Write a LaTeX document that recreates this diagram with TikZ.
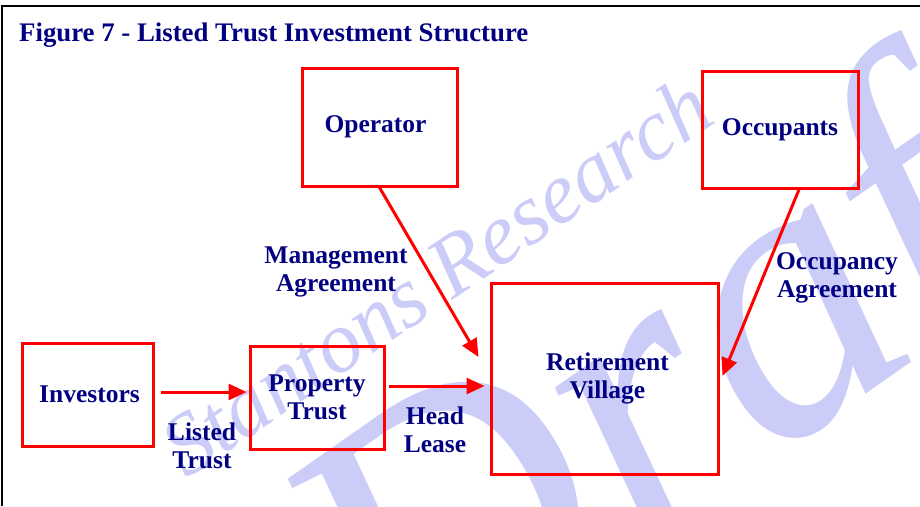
\documentclass[tikz,border=0pt]{standalone}
\usepackage{fontspec}
\setmainfont{Liberation Serif}
\usetikzlibrary{arrows.meta}
\definecolor{navytext}{RGB}{0,0,128}
\definecolor{boxred}{RGB}{255,0,0}
\definecolor{wmark}{RGB}{204,204,248}
\begin{document}
\begin{tikzpicture}[x=1pt,y=-1pt,
  box/.style={draw=boxred,line width=3pt,text=navytext,font=\bfseries\fontsize{25.5}{28}\selectfont,align=center,inner sep=0pt},
  lbl/.style={text=navytext,font=\bfseries\fontsize{25.5}{28}\selectfont,align=center,inner sep=0pt},
  arr/.style={draw=boxred,line width=3pt,-{Triangle[length=18pt,width=16pt]}},
  wm/.style={text=wmark,inner sep=0pt}]
\useasboundingbox (0,0) rectangle (920,506);
\begin{scope}
\clip (0,0) rectangle (920,506);
% watermark
\node[wm,anchor=base west,rotate=34,font=\itshape\fontsize{87}{87}\selectfont] (wm1) at (186,480) {Stantons Research};
\node[wm,anchor=base west,rotate=35,font=\itshape\fontsize{400}{400}\selectfont] (wm2) at (404,718) {Draft};
\end{scope}
% frame
\draw[line width=2.5pt] (2,506) -- (2,6) -- (920,6);
% title
\node[lbl,anchor=base west,font=\bfseries\fontsize{26.8}{30}\selectfont] (title) at (19,41) {Figure 7 - Listed Trust Investment Structure};
% boxes
\node[box,minimum width=155,minimum height=118] (op) at (379.5,127) {Operator\hspace*{8pt}};
\node[box,minimum width=156,minimum height=117] (occ) at (780,129.5) {Occupants};
\node[box,minimum width=131,minimum height=103] (inv) at (87.5,394.5) {\hspace*{4pt}Investors};
\node[box,minimum width=134,minimum height=103] (pt) at (317,397.5) {Property\\Trust};
\node[box,minimum width=227,minimum height=191] (rv) at (604.5,378.5) {\hspace*{6pt}Retirement\\\hspace*{6pt}Village};
% labels
\node[lbl] (ma) at (336,272) {Management\\Agreement};
\node[lbl] (oa) at (837,278) {Occupancy\\Agreement};
\node[lbl] (lt) at (202,446) {Listed\\Trust};
\node[lbl] (hl) at (435,430) {Head\\Lease};
% connectors
\draw[arr] ([xshift=6pt,yshift=2.5pt]inv.east) coordinate (a1) -- (a1 -| pt.west) [shorten >=2pt];
\draw[arr,shorten >=5pt] ([xshift=3pt,yshift=11.5pt]pt.east) coordinate (a2) -- (a2 -| rv.west);
\draw[arr] (op.south) -- ([xshift=-11pt,yshift=21.5pt]rv.west);
\draw[arr] ([xshift=19pt]occ.south) -- ([xshift=3pt,yshift=2.5pt]rv.east);
\end{tikzpicture}
\end{document}
